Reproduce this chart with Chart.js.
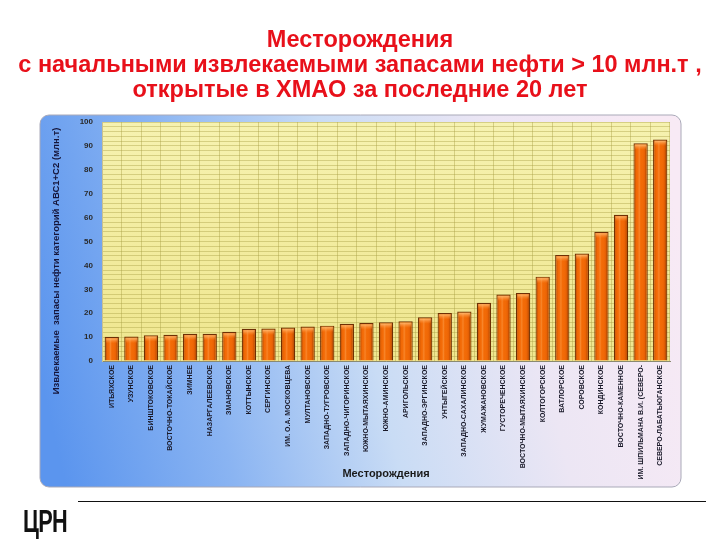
<!DOCTYPE html>
<html lang="ru">
<head>
<meta charset="utf-8">
<script src="https://cdn.jsdelivr.net/npm/chart.js@4.4.1/dist/chart.umd.min.js"></script>
<style>
  html, body { margin: 0; padding: 0; background: #ffffff; }
  #wrap { position: relative; width: 720px; height: 540px; overflow: hidden; }
  #c { position: absolute; left: 0; top: 0; }
  #title { position: absolute; left: 0; top: 27px; width: 720px; text-align: center; font-family: "Liberation Sans", Arial, sans-serif; font-weight: bold; font-size: 23.5px; line-height: 25px; color: #e8101a; white-space: nowrap; }
  #rule { position: absolute; left: 78px; top: 501px; width: 628px; height: 0; border-top: 1.5px solid #111; }
  #logo { position: absolute; left: 23px; top: 504px; font-family: "Liberation Sans", Arial, sans-serif; font-weight: 900; font-size: 31px; color: #111; transform: scaleX(0.7); transform-origin: left top; letter-spacing: -1px; }
</style>
</head>
<body>
<div id="wrap">
  <canvas id="c" width="720" height="540"></canvas>
  <div id="title"></div>
  <div id="rule"></div>
  <div id="logo">ЦРН</div>
</div>
<script>
const titleLines = [
  "Месторождения",
  "с начальными извлекаемыми запасами нефти > 10 млн.т ,",
  "открытые в ХМАО за последние 20 лет"
];
const yAxisTitle = "Извлекаемые  запасы нефти категорий АВС1+С2 (млн.т)";
const xAxisTitle = "Месторождения";
const fields = [
  "ИТЬЯХСКОЕ", "УЗУНСКОЕ", "БИНШТОКОВСКОЕ", "ВОСТОЧНО-ТОКАЙСКОЕ", "ЗИМНЕЕ",
  "НАЗАРГАЛЕЕВСКОЕ", "ЗМАНОВСКОЕ", "КОТТЫНСКОЕ", "СЕРГИНСКОЕ", "ИМ. О.А. МОСКОВЦЕВА",
  "МУЛТАНОВСКОЕ", "ЗАПАДНО-ТУГРОВСКОЕ", "ЗАПАДНО-ЧИГОРИНСКОЕ", "ЮЖНО-МЫТАЯХИНСКОЕ", "ЮЖНО-АМИНСКОЕ",
  "АРИГОЛЬСКОЕ", "ЗАПАДНО-ЭРГИНСКОЕ", "УНТЫГЕЙСКОЕ", "ЗАПАДНО-САХАЛИНСКОЕ", "ЖУМАЖАНОВСКОЕ",
  "ГУСТОРЕЧЕНСКОЕ", "ВОСТОЧНО-МЫТАЯХИНСКОЕ", "КОЛТОГОРСКОЕ", "ВАТЛОРСКОЕ", "СОРОВСКОЕ",
  "КОНДИНСКОЕ", "ВОСТОЧНО-КАМЕННОЕ", "ИМ. ШПИЛЬМАНА В.И. (СЕВЕРО-", "СЕВЕРО-ЛАБАТЬЮГАНСКОЕ"
];
const reserves = [
  10.1, 10.2, 10.8, 11.0, 11.4,
  11.4, 12.2, 13.5, 13.6, 14.0,
  14.4, 14.8, 15.6, 15.9, 16.2,
  16.6, 18.3, 20.1, 20.7, 24.4,
  27.8, 28.5, 35.3, 44.4, 45.0,
  54.1, 61.2, 91.1, 92.7
];
const yMin = 0, yMax = 100, yMinorStep = 2, yLabelStep = 10;

const FONT = '"Liberation Sans", Arial, sans-serif';

const titleEl = document.getElementById('title');
titleLines.forEach(t => {
  const d = document.createElement('div');
  d.textContent = t;
  titleEl.appendChild(d);
});

const backgroundPlugin = {
  id: 'panelBg',
  beforeDraw(chart) {
    const ctx = chart.ctx;
    const a = chart.chartArea;
    ctx.save();
    const px = 40, py = 115, pw = 641, ph = 372, r = 9;
    const g = ctx.createLinearGradient(px, py + ph * 0.7, px + pw, py + ph * 0.3);
    g.addColorStop(0, '#5b95ee');
    g.addColorStop(0.25, '#8ab4f2');
    g.addColorStop(0.5, '#c9dcf5');
    g.addColorStop(0.75, '#ece6f4');
    g.addColorStop(1, '#f8eaf5');
    ctx.beginPath();
    ctx.roundRect(px, py, pw, ph, r);
    ctx.fillStyle = g;
    ctx.fill();
    ctx.strokeStyle = '#a9a9b8';
    ctx.lineWidth = 1;
    ctx.stroke();
    const pg = ctx.createLinearGradient(0, a.top, 0, a.bottom);
    pg.addColorStop(0, '#f6f2b0');
    pg.addColorStop(1, '#efe68e');
    ctx.fillStyle = pg;
    ctx.fillRect(a.left, a.top, a.right - a.left, a.bottom - a.top);
    ctx.restore();
  },
  afterDraw(chart) {
    const ctx = chart.ctx;
    ctx.save();
    ctx.translate(56, 261);
    ctx.rotate(-Math.PI / 2);
    ctx.font = 'bold 9.5px ' + FONT;
    ctx.fillStyle = '#15153a';
    ctx.textAlign = 'center';
    ctx.textBaseline = 'middle';
    ctx.fillText(yAxisTitle, 0, 0);
    ctx.restore();
  }
};

const barShinePlugin = {
  id: 'barShine',
  afterDatasetsDraw(chart) {
    const ctx = chart.ctx;
    const meta = chart.getDatasetMeta(0);
    ctx.save();
    meta.data.forEach(el => {
      const p = el.getProps(['x', 'y', 'base', 'width'], true);
      const l = p.x - p.width / 2 + 1.5;
      const w = p.width - 3;
      const top = p.y + 1.5;
      const h = p.base - top - 0.5;
      if (h <= 0) return;
      const g = ctx.createLinearGradient(l, 0, l + w, 0);
      g.addColorStop(0, 'rgba(150,55,0,0.55)');
      g.addColorStop(0.18, 'rgba(255,110,10,0)');
      g.addColorStop(0.38, 'rgba(255,170,90,0.45)');
      g.addColorStop(0.55, 'rgba(255,120,20,0)');
      g.addColorStop(0.85, 'rgba(200,70,0,0.25)');
      g.addColorStop(1, 'rgba(120,45,0,0.6)');
      ctx.fillStyle = g;
      ctx.fillRect(l, top, w, h);
      const tg = ctx.createLinearGradient(0, top, 0, top + 5);
      tg.addColorStop(0, 'rgba(255,190,120,0.85)');
      tg.addColorStop(1, 'rgba(255,150,60,0)');
      ctx.fillStyle = tg;
      ctx.fillRect(l, top, w, Math.min(5, h));
    });
    ctx.restore();
  }
};

const gridColor = 'rgba(170,160,70,0.42)';

new Chart(document.getElementById('c'), {
  type: 'bar',
  data: {
    labels: fields,
    datasets: [{
      data: reserves,
      backgroundColor: '#f26a06',
      borderColor: '#6e2f04',
      borderWidth: 1.2,
      borderSkipped: 'bottom',
      barPercentage: 0.73,
      categoryPercentage: 1.0
    }]
  },
  options: {
    responsive: false,
    animation: false,
    devicePixelRatio: 1,
    layout: { padding: { left: 40, right: 50, top: 122, bottom: 53 } },
    plugins: {
      legend: { display: false },
      tooltip: { enabled: false },
      title: { display: false }
    },
    scales: {
      x: {
        grid: { color: gridColor, lineWidth: 1, offset: true, drawTicks: false },
        border: { display: true, color: '#8a8a70', width: 1 },
        ticks: {
          autoSkip: false, maxRotation: 90, minRotation: 90, padding: 4,
          color: '#1a1a2a',
          font: { family: FONT, size: 7, weight: 'bold' }
        },
        title: {
          display: true, text: xAxisTitle, color: '#1a1a1a',
          font: { family: FONT, size: 11, weight: 'bold' },
          padding: { top: 2, bottom: 6 }
        },
        afterFit(scale) { scale.height = 126; }
      },
      y: {
        min: yMin, max: yMax,
        grid: { color: gridColor, lineWidth: 1, drawTicks: false },
        border: { display: true, color: '#c8c090', width: 1 },
        ticks: {
          stepSize: yMinorStep, autoSkip: false, maxTicksLimit: 100,
          padding: 9, color: '#2a2a2a',
          font: { family: FONT, size: 8, weight: 'bold' },
          callback: v => (v % yLabelStep === 0 ? String(v) : '')
        },
        title: { display: false },
        afterFit(scale) { scale.width = 62; }
      }
    }
  },
  plugins: [backgroundPlugin, barShinePlugin]
});
</script>
</body>
</html>
